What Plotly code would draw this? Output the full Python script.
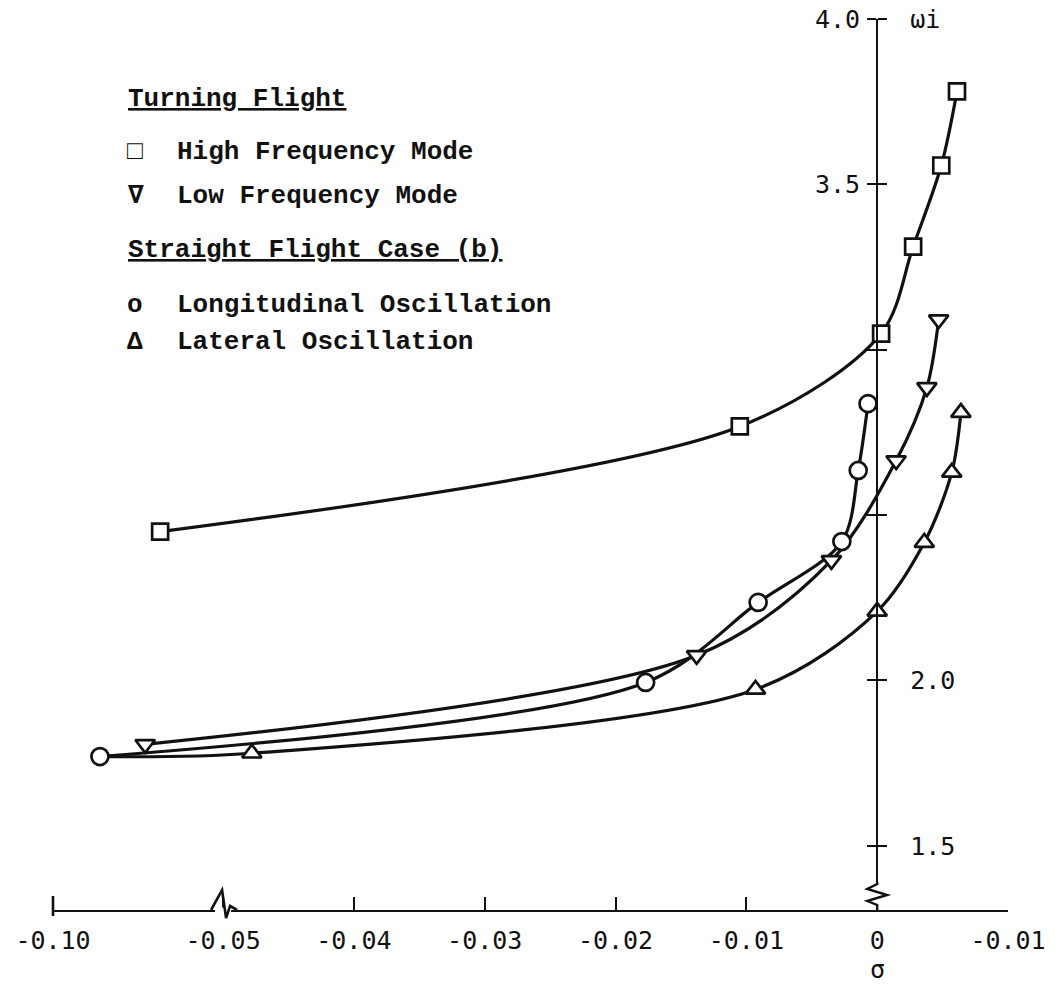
import plotly.graph_objects as go

# ---------------- data ----------------
hf_sigma = [-0.0685, -0.0105, 0.0003, 0.00275, 0.0049, 0.0061]
hf_omega = [2.450, 2.768, 3.049, 3.312, 3.557, 3.781]

lf_sigma = [-0.0729, -0.0138, -0.0035, 0.00145, 0.0038, 0.0047]
lf_omega = [1.807, 2.076, 2.363, 2.665, 2.886, 3.091]

lo_sigma = [-0.0862, -0.0177, -0.0091, -0.0027, -0.00145, -0.0007]
lo_omega = [1.770, 1.994, 2.236, 2.420, 2.635, 2.837]

la_sigma = [-0.0478, -0.0093, 0.0, 0.0036, 0.0057, 0.0064]
la_omega = [1.780, 1.973, 2.209, 2.417, 2.629, 2.810]

x_ticks = [-0.10, -0.05, -0.04, -0.03, -0.02, -0.01, 0.0, 0.01]
x_labels = ["-0.10", "-0.05", "-0.04", "-0.03", "-0.02", "-0.01", "0", "-0.01"]
y_ticks = [1.5, 2.0, 2.5, 3.0, 3.5, 4.0]
y_left_labels = ["", "", "", "", "3.5", "4.0"]
y_right_labels = ["1.5", "2.0", "", "", "", "\u03c9i"]

# ---------------- broken sigma axis ----------------
# below sigma = -0.05 the abscissa is compressed (as drawn in the reference)
BREAK = -0.05
COMPRESS = 0.26


def sigma_axis(s):
    """Position of sigma on the broken abscissa."""
    return s if s >= BREAK else BREAK + (s - BREAK) * COMPRESS


# ---------------- layout geometry ----------------
W, H = 1063, 987
ML, MR, MT, MB = 53, 55, 19, 77
PW, PH = W - ML - MR, H - MT - MB
x_range = [sigma_axis(min(x_ticks)), max(x_ticks)]
y_range = [1.306, 4.0]
yaxis_pos = (0 - x_range[0]) / (x_range[1] - x_range[0])
break_pos = (BREAK - x_range[0]) / (x_range[1] - x_range[0])

TICK_FONT = "DejaVu Sans Mono, Liberation Mono, monospace"
TEXT_FONT = "Liberation Mono, Courier New, monospace"
FS = 25
INK = "#111111"


def px(xp):
    return (xp - ML) / PW


def py(yp):
    return (MT + PH - yp) / PH


fig = go.Figure()

series = [
    (hf_sigma, hf_omega, "square", 16, "High Frequency Mode"),
    (lf_sigma, lf_omega, "triangle-down", 17, "Low Frequency Mode"),
    (lo_sigma, lo_omega, "circle", 17, "Longitudinal Oscillation"),
    (la_sigma, la_omega, "triangle-up", 17, "Lateral Oscillation"),
]

# curves
for xs, ys, sym, sz, name in series:
    lx, ly = list(xs), list(ys)
    if name == "Lateral Oscillation":
        # the lateral curve leaves from the common starting point on the left
        lx = [lo_sigma[0]] + lx
        ly = [lo_omega[0]] + ly
    fig.add_trace(go.Scatter(
        x=[sigma_axis(v) for v in lx], y=ly, xaxis="x", yaxis="y", mode="lines",
        line=dict(color=INK, width=3.2, shape="spline", smoothing=0.9),
        showlegend=False, hoverinfo="skip"))

# markers (on the overlaid right-hand ordinate, same scale)
for xs, ys, sym, sz, name in series:
    fig.add_trace(go.Scatter(
        x=[sigma_axis(v) for v in xs], y=ys, xaxis="x", yaxis="y2",
        mode="markers", name=name,
        marker=dict(symbol=sym, size=sz, color="white",
                    line=dict(color=INK, width=2.7)),
        showlegend=False))

yaxis_common = dict(range=y_range, anchor="free", position=yaxis_pos,
                    showgrid=False, zeroline=False, ticks="outside", ticklen=9,
                    tickwidth=2.2, tickcolor=INK, tickmode="array",
                    tickvals=y_ticks, automargin=False, fixedrange=True,
                    tickfont=dict(family=TICK_FONT, size=FS, color=INK))

fig.update_layout(
    width=W, height=H,
    margin=dict(l=ML, r=MR, t=MT, b=MB, autoexpand=False),
    paper_bgcolor="white", plot_bgcolor="white",
    showlegend=False,
    xaxis=dict(domain=[0, 1], range=x_range, tickmode="array",
               tickvals=[sigma_axis(v) for v in x_ticks], ticktext=x_labels,
               showgrid=False, zeroline=False, showline=True, linecolor=INK,
               linewidth=2.2, ticks="inside", ticklen=13, tickwidth=2.2,
               tickcolor=INK, tickfont=dict(family=TICK_FONT, size=FS, color=INK),
               ticklabelstandoff=7, anchor="y", automargin=False,
               fixedrange=True),
    yaxis=dict(side="left", showline=True, linecolor=INK, linewidth=2.2,
               ticktext=y_left_labels, ticklabelstandoff=2, **yaxis_common),
    yaxis2=dict(side="right", overlaying="y", showline=False,
                ticktext=y_right_labels, ticklabelstandoff=18, **yaxis_common),
)

# axis-break marks
shapes = []
bx = ML + break_pos * PW
shapes.append(dict(type="line", xref="paper", yref="paper",
                   x0=px(bx - 8), x1=px(bx + 8), y0=0, y1=0,
                   line=dict(color="white", width=5), layer="above"))
zx = [bx - 12, bx - 1, bx + 3, bx + 7, bx + 14]
zy = [MT + PH, MT + PH - 20, MT + PH + 8, MT + PH - 4, MT + PH]
path = "M " + " L ".join(f"{px(a):.5f},{py(b):.5f}" for a, b in zip(zx, zy))
shapes.append(dict(type="path", xref="paper", yref="paper", path=path,
                   line=dict(color=INK, width=2.6), layer="above"))
# -0.10 end cap crosses the axis
shapes.append(dict(type="line", xref="paper", yref="paper",
                   x0=0, x1=0, y0=py(MT + PH + 6), y1=py(MT + PH - 14),
                   line=dict(color=INK, width=2.6), layer="above"))
yx0 = ML + yaxis_pos * PW
shapes.append(dict(type="line", xref="paper", yref="paper",
                   x0=yaxis_pos, x1=yaxis_pos, y0=py(907), y1=py(882),
                   line=dict(color="white", width=5), layer="above"))
wx = [yx0, yx0, yx0 - 10, yx0 + 10, yx0 - 10, yx0, yx0]
wy = [882, 884, 889, 895, 901, 905, 910]
path2 = "M " + " L ".join(f"{px(a):.5f},{py(b):.5f}" for a, b in zip(wx, wy))
shapes.append(dict(type="path", xref="paper", yref="paper", path=path2,
                   line=dict(color=INK, width=2.4), layer="above"))
fig.update_layout(shapes=shapes)

# legend written as typed text, as in the reference
legend_rows = [
    (None, "<u>Turning Flight</u>", 99),
    ("\u25a1", "High Frequency Mode", 152),
    ("\u2207", "Low Frequency Mode", 196),
    (None, "<u>Straight Flight Case (b)</u>", 250),
    ("o", "Longitudinal Oscillation", 305),
    ("\u0394", "Lateral Oscillation", 342),
]
LEG_FONT = dict(family=TEXT_FONT, size=26, color=INK, weight="bold")
for sym, text, yy in legend_rows:
    if sym is None:
        fig.add_annotation(x=px(126), y=py(yy), xref="paper", yref="paper",
                           text=text, showarrow=False, xanchor="left",
                           yanchor="middle", font=LEG_FONT)
    else:
        fig.add_annotation(x=px(135), y=py(yy), xref="paper", yref="paper",
                           text=sym, showarrow=False, xanchor="center",
                           yanchor="middle", font=LEG_FONT)
        fig.add_annotation(x=px(175), y=py(yy), xref="paper", yref="paper",
                           text=text, showarrow=False, xanchor="left",
                           yanchor="middle", font=LEG_FONT)

# abscissa title under the zero
fig.add_annotation(x=0, xref="x", y=py(969), yref="paper", text="\u03c3",
                   showarrow=False, xanchor="center", yanchor="middle",
                   font=dict(family=TICK_FONT, size=FS, color=INK))

fig.write_html("out.html")
